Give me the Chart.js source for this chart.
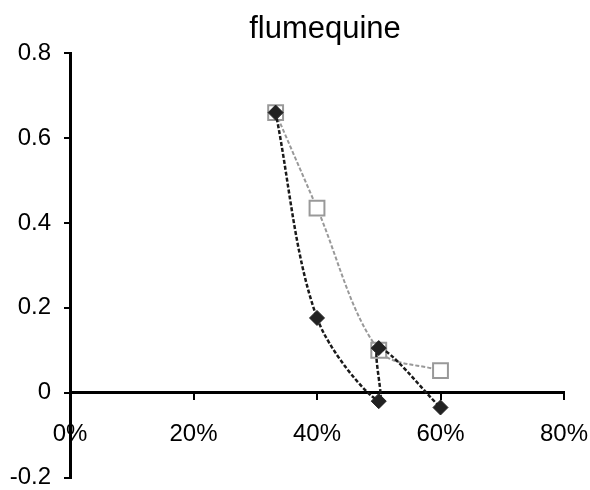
<!DOCTYPE html>
<html>
<head>
<meta charset="utf-8">
<script src="https://cdn.jsdelivr.net/npm/chart.js@4.4.1/dist/chart.umd.min.js"></script>
<style>
  body { margin: 0; background: #fff; }
  #box { width: 590px; height: 490px; }
</style>
</head>
<body>
<div id="box"><canvas id="flumeChart" width="590" height="490"></canvas></div>
<script>
// values (x in %, y as plotted)
const squareX  = [33.3, 40, 50, 60];
const squareY  = [0.66, 0.435, 0.10, 0.052];
const diamondX = [33.3, 40, 50, 50, 60];
const diamondY = [0.66, 0.176, -0.02, 0.105, -0.035];
const xTicks = [0, 20, 40, 60, 80];
const yTicks = [-0.2, 0, 0.2, 0.4, 0.6, 0.8];

const toPoints = (xs, ys) => xs.map((x, i) => ({ x: x, y: ys[i] }));

let fontName = "'Liberation Sans', Arial, sans-serif";

let chartData = {
  datasets: [
    {
      label           : 'diamonds',
      data            : toPoints(diamondX, diamondY),
      showLine        : true,
      tension         : 0.33,
      borderColor     : '#1a1a1a',
      borderWidth     : 2.5,
      borderDash      : [4, 2],
      pointStyle      : 'rectRot',
      pointRadius     : 7.5,
      pointBackgroundColor: '#222',
      pointBorderColor: '#222',
      pointBorderWidth: 1,
      order           : 1
    },
    {
      label           : 'squares',
      data            : toPoints(squareX, squareY),
      showLine        : true,
      tension         : 0.33,
      borderColor     : '#999',
      borderWidth     : 2,
      borderDash      : [4, 2],
      pointStyle      : 'rect',
      pointRadius     : 10.5,
      pointBackgroundColor: '#fff',
      pointBorderColor: '#999',
      pointBorderWidth: 2,
      order           : 2
    }
  ]
};

// nudge the title a little right, like the original
const titleShift = {
  id: 'titleShift',
  afterLayout(chart) {
    if (chart.titleBlock) {
      chart.titleBlock.left += 8;
      chart.titleBlock.right += 8;
    }
  }
};

let chartOptions = {
  responsive: false,
  animation: false,
  plugins: {
    legend: { display: false },
    tooltip: { enabled: false },
    title: {
      display: true,
      text: 'flumequine',
      fullSize: false,
      color: '#000',
      font: { family: fontName, size: 31, weight: 'normal' },
      padding: { top: 11, bottom: 5 }
    }
  },
  scales: {
    x: {
      type: 'linear',
      position: { y: 0 },
      min: 0,
      max: 80,
      afterBuildTicks: (scale) => { scale.ticks = xTicks.map(v => ({ value: v })); },
      afterFit: (scale) => { scale.paddingRight = 26; scale.paddingLeft = 0; },
      ticks: {
        color: '#000',
        padding: 21,
        maxRotation: 0,
        font: { family: fontName, size: 24 },
        callback: (v) => v + '%'
      },
      grid: { drawOnChartArea: false, color: '#000', lineWidth: 2, tickLength: 6 },
      border: { color: '#000', width: 3 }
    },
    y: {
      min: -0.2,
      max: 0.8,
      afterBuildTicks: (scale) => { scale.ticks = yTicks.map(v => ({ value: v })); },
      afterFit: (scale) => {
        scale.width = 70;
        scale.paddingBottom = 11;
        scale.paddingTop = 12;
      },
      ticks: {
        color: '#000',
        padding: 13,
        font: { family: fontName, size: 24, lineHeight: 1 },
        callback: (v) => Math.abs(v) < 1e-9 ? '0' : (+v).toFixed(1)
      },
      grid: { drawOnChartArea: false, color: '#000', lineWidth: 2, tickLength: 6 },
      border: { color: '#000', width: 3 }
    }
  }
};

new Chart(document.getElementById('flumeChart').getContext('2d'), {
  type: 'scatter',
  data: chartData,
  options: chartOptions,
  plugins: [titleShift]
});
</script>
</body>
</html>
